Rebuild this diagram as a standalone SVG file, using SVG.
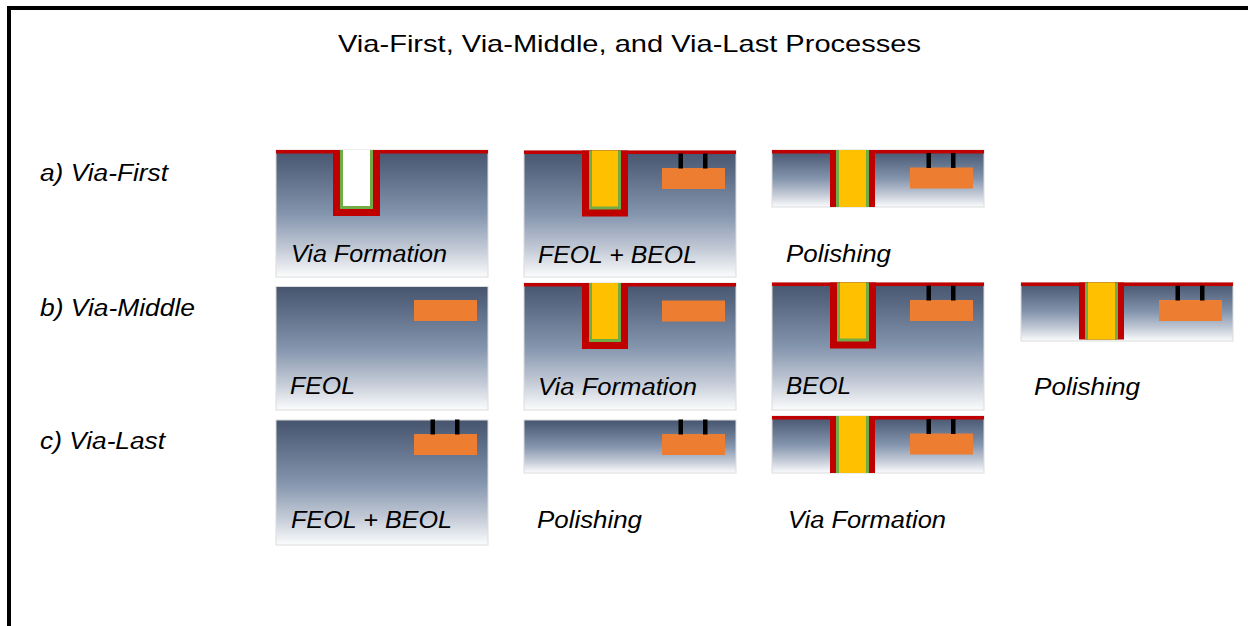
<svg xmlns="http://www.w3.org/2000/svg" xmlns:xlink="http://www.w3.org/1999/xlink" width="1248" height="626" viewBox="0 0 1248 626">
  <style>
    .title { font-family: "Liberation Sans", Arial, sans-serif; font-size: 24px; fill: #000; }
    .row { font-family: "Liberation Sans", Arial, sans-serif; font-style: italic; font-size: 23px; fill: #000; }
    .lbl { font-family: "Liberation Sans", Arial, sans-serif; font-style: italic; font-size: 23px; fill: #000; }
    .sub { fill: url(#substrate); stroke: #dcdcdc; stroke-width: 1; }
    .red { fill: #c00000; }
    .liner { fill: #70ad47; }
    .cu { fill: #ffc000; }
    .open { fill: #ffffff; }
    .pad { fill: #ed7d31; }
    .pin { fill: #000000; }
  </style>
  <defs>
    <linearGradient id="substrate" x1="0" y1="0" x2="0" y2="1">
      <stop offset="0" stop-color="#46546e"/>
      <stop offset="0.5" stop-color="#8394ad"/>
      <stop offset="0.78" stop-color="#c3cad6"/>
      <stop offset="1" stop-color="#fbfcfd"/>
    </linearGradient>
    <!-- blind via, unfilled -->
    <g id="via-open">
      <rect class="red" x="57" y="0" width="47" height="66"/>
      <rect class="liner" x="64" y="0" width="33" height="59"/>
      <rect class="open" x="67" y="0" width="27" height="56"/>
    </g>
    <!-- blind via, copper filled -->
    <g id="via-filled">
      <rect class="red" x="58" y="0" width="46" height="66"/>
      <rect class="liner" x="65" y="0" width="32" height="59"/>
      <rect class="cu" x="68" y="0" width="26" height="56"/>
    </g>
    <!-- via exposed through thinned wafer -->
    <g id="via-through">
      <rect class="red" x="58" y="0" width="45" height="57"/>
      <rect class="liner" x="64" y="0" width="33" height="57"/>
      <rect class="cu" x="67" y="0" width="27" height="57"/>
    </g>
    <!-- device region -->
    <g id="pad">
      <rect class="pad" x="138" y="17.5" width="63" height="21"/>
    </g>
    <!-- device region with BEOL contacts -->
    <g id="pad-wired">
      <use xlink:href="#pad"/>
      <rect class="pin" x="154.5" y="3" width="4.5" height="15"/>
      <rect class="pin" x="179" y="3" width="4.5" height="15"/>
    </g>
  </defs>

  <rect x="0" y="0" width="1248" height="626" fill="#ffffff"/>
  <!-- frame -->
  <path d="M9,626 V8 H1248" fill="none" stroke="#000" stroke-width="4"/>

  <text class="title" x="338" y="52" textLength="583" lengthAdjust="spacingAndGlyphs">Via-First, Via-Middle, and Via-Last Processes</text>

  <text class="row" x="40" y="181" textLength="128" lengthAdjust="spacingAndGlyphs">a) Via-First</text>
  <text class="row" x="40" y="316" textLength="155" lengthAdjust="spacingAndGlyphs">b) Via-Middle</text>
  <text class="row" x="40" y="449" textLength="125" lengthAdjust="spacingAndGlyphs">c) Via-Last</text>

  <!-- a) Via-First -->
  <g id="a1" transform="translate(276,150)">
    <rect class="sub" x="0" y="0" width="212" height="127"/>
    <rect class="red" x="0" y="0" width="212" height="3.5"/>
    <use xlink:href="#via-open"/>
    <text class="lbl" x="15" y="112" textLength="156" lengthAdjust="spacingAndGlyphs">Via Formation</text>
  </g>
  <g id="a2" transform="translate(524,150.5)">
    <rect class="sub" x="0" y="0" width="212" height="126.5"/>
    <rect class="red" x="0" y="0" width="212" height="3.5"/>
    <use xlink:href="#via-filled"/>
    <use xlink:href="#pad-wired"/>
    <text class="lbl" x="14" y="112" textLength="159" lengthAdjust="spacingAndGlyphs">FEOL + BEOL</text>
  </g>
  <g id="a3" transform="translate(772,150)">
    <rect class="sub" x="0" y="0" width="212" height="57"/>
    <rect class="red" x="0" y="0" width="212" height="3.5"/>
    <use xlink:href="#via-through"/>
    <use xlink:href="#pad-wired"/>
    <text class="lbl" x="14" y="112" textLength="105" lengthAdjust="spacingAndGlyphs">Polishing</text>
  </g>

  <!-- b) Via-Middle -->
  <g id="b1" transform="translate(276,282.5)">
    <rect class="sub" x="0" y="4" width="212" height="123.5"/>
    <use xlink:href="#pad"/>
    <text class="lbl" x="14" y="111.5" textLength="65" lengthAdjust="spacingAndGlyphs">FEOL</text>
  </g>
  <g id="b2" transform="translate(524,283)">
    <rect class="sub" x="0" y="0" width="212" height="127"/>
    <rect class="red" x="0" y="0" width="212" height="3.5"/>
    <use xlink:href="#via-filled"/>
    <use xlink:href="#pad"/>
    <text class="lbl" x="14" y="111.5" textLength="159" lengthAdjust="spacingAndGlyphs">Via Formation</text>
  </g>
  <g id="b3" transform="translate(772,282.5)">
    <rect class="sub" x="0" y="0" width="212" height="127.5"/>
    <rect class="red" x="0" y="0" width="212" height="3.5"/>
    <use xlink:href="#via-filled"/>
    <use xlink:href="#pad-wired"/>
    <text class="lbl" x="14" y="111.5" textLength="65" lengthAdjust="spacingAndGlyphs">BEOL</text>
  </g>
  <g id="b4" transform="translate(1021,282.5)">
    <rect class="sub" x="0" y="0" width="212" height="58.5"/>
    <rect class="red" x="0" y="0" width="212" height="3.5"/>
    <use xlink:href="#via-through"/>
    <use xlink:href="#pad-wired"/>
    <text class="lbl" x="13" y="112" textLength="106" lengthAdjust="spacingAndGlyphs">Polishing</text>
  </g>

  <!-- c) Via-Last -->
  <g id="c1" transform="translate(276,416.5)">
    <rect class="sub" x="0" y="3.5" width="212" height="125"/>
    <use xlink:href="#pad-wired"/>
    <text class="lbl" x="15" y="111.5" textLength="161" lengthAdjust="spacingAndGlyphs">FEOL + BEOL</text>
  </g>
  <g id="c2" transform="translate(524,416.5)">
    <rect class="sub" x="0" y="3.5" width="212" height="53"/>
    <use xlink:href="#pad-wired"/>
    <text class="lbl" x="13" y="111.5" textLength="105" lengthAdjust="spacingAndGlyphs">Polishing</text>
  </g>
  <g id="c3" transform="translate(772,416)">
    <rect class="sub" x="0" y="0" width="212" height="57"/>
    <rect class="red" x="0" y="0" width="212" height="3.5"/>
    <use xlink:href="#via-through"/>
    <use xlink:href="#pad-wired"/>
    <text class="lbl" x="16" y="112" textLength="158" lengthAdjust="spacingAndGlyphs">Via Formation</text>
  </g>
</svg>
